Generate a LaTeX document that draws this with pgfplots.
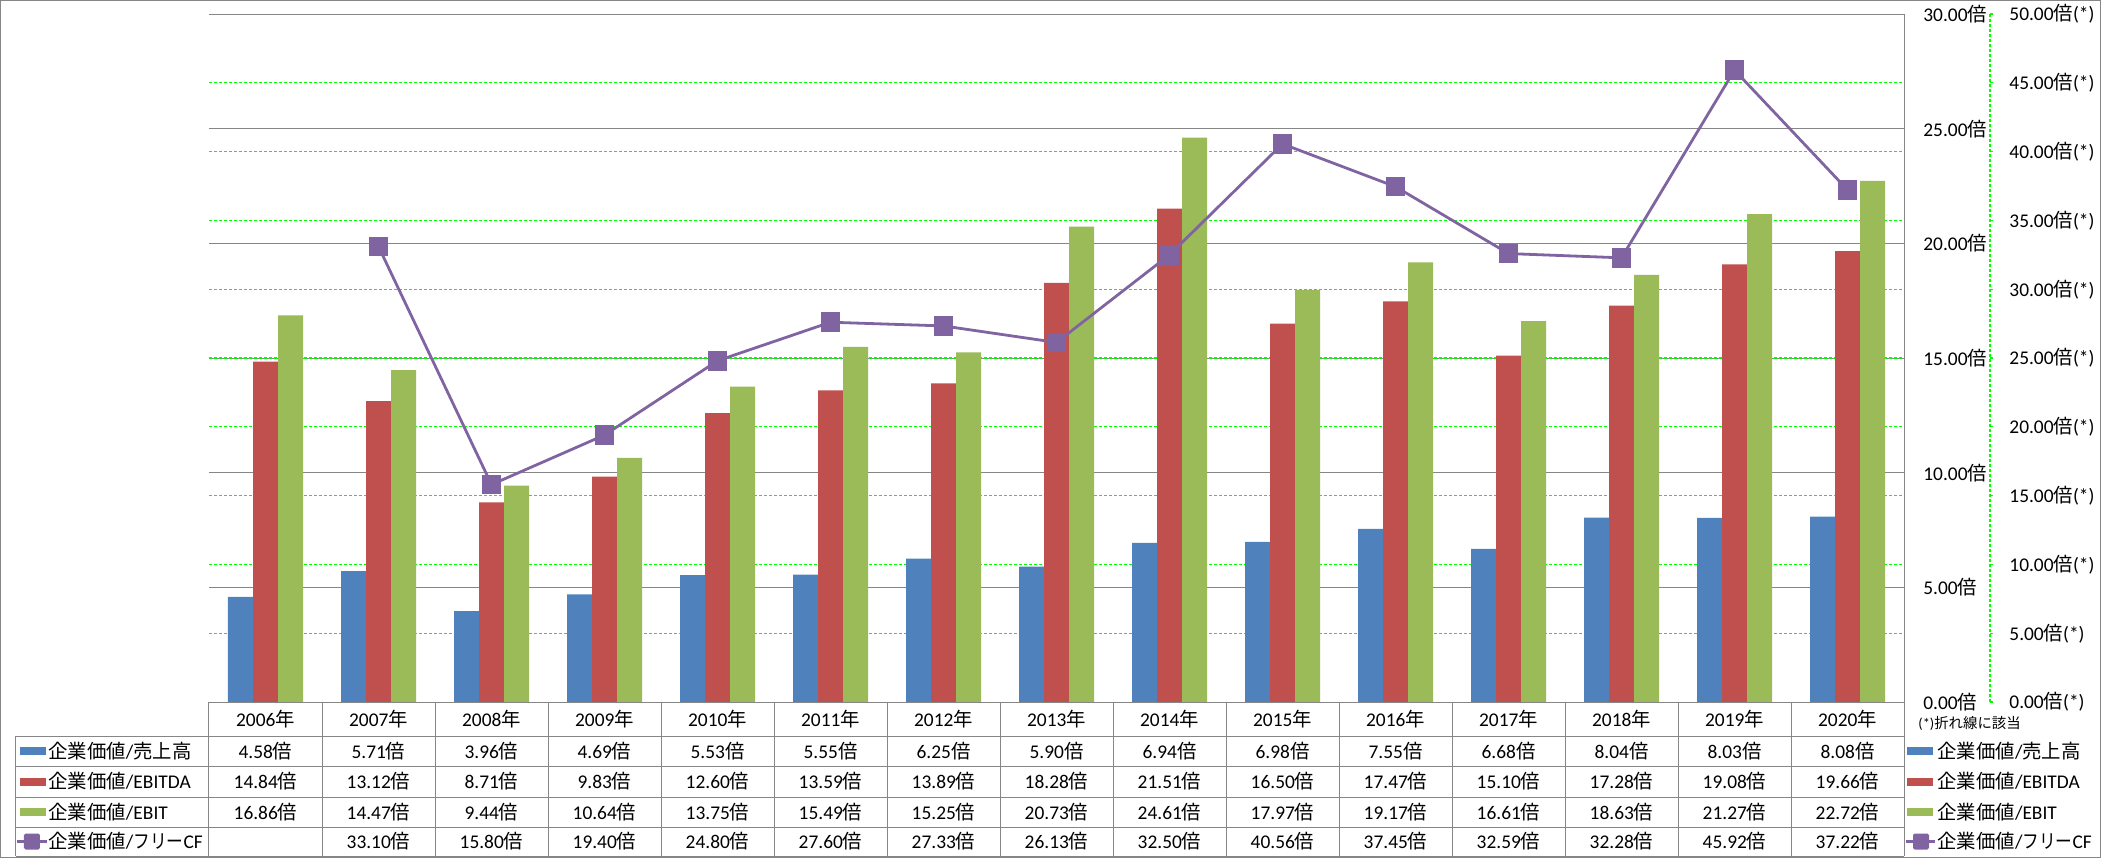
\documentclass[border=0pt]{standalone}
\usepackage{fontspec}
\setmainfont{Carlito}
\newfontfamily\jp{Noto Sans CJK JP}
\newfontfamily\jpn{Noto Sans CJK JP}[FakeStretch=0.86]
\usepackage{pgfplots}
\pgfplotsset{compat=1.18}
\newcommand\J[1]{{\jp #1}}
\newcommand\bai{\J{倍}}
\definecolor{cBlue}{HTML}{4F81BD}
\definecolor{cRed}{HTML}{C0504D}
\definecolor{cGreen}{HTML}{9BBB59}
\definecolor{cPurple}{HTML}{8064A2}
\definecolor{cGrid}{HTML}{868686}
\definecolor{cLime}{HTML}{00FF00}
\begin{document}
\begin{tikzpicture}[font=\fontsize{9.7}{11.6}\selectfont]
\begin{pgfinterruptboundingbox}
\begin{axis}[
  at={(0,0)}, anchor=south west,
  scale only axis, width=847.5pt, height=344pt,
  xmin=-0.5, xmax=14.5, ymin=0, ymax=30,
  axis x line*=bottom, axis y line*=right, axis line style={draw=none},
  major tick length=0pt,
  xtick={0,...,14},
  xticklabels={2006\J{年},2007\J{年},2008\J{年},2009\J{年},2010\J{年},2011\J{年},2012\J{年},2013\J{年},2014\J{年},2015\J{年},2016\J{年},2017\J{年},2018\J{年},2019\J{年},2020\J{年}},
  xticklabel style={anchor=center, inner sep=0pt, yshift=-8.5pt},
  ytick={0,5,...,30},
  yticklabels={0.00\bai,5.00\bai,10.00\bai,15.00\bai,20.00\bai,25.00\bai,30.00\bai},
  yticklabel style={anchor=west, inner sep=0pt, xshift=9.5pt},
  ymajorgrids, major grid style={draw=cGrid, line width=0.5pt},
  extra y ticks={3,6,...,27}, extra y tick labels={},
  extra y tick style={grid=major, major grid style={draw=cLime, line width=0.55pt, dash pattern=on 1.5pt off 1pt}},
  ybar=0pt, bar width=12.5pt,
]
\addplot[fill=cBlue, draw=none] coordinates {(0,4.58) (1,5.71) (2,3.96) (3,4.69) (4,5.53) (5,5.55) (6,6.25) (7,5.90) (8,6.94) (9,6.98) (10,7.55) (11,6.68) (12,8.04) (13,8.03) (14,8.08)};
\addplot[fill=cRed, draw=none] coordinates {(0,14.84) (1,13.12) (2,8.71) (3,9.83) (4,12.60) (5,13.59) (6,13.89) (7,18.28) (8,21.51) (9,16.50) (10,17.47) (11,15.10) (12,17.28) (13,19.08) (14,19.66)};
\addplot[fill=cGreen, draw=none] coordinates {(0,16.86) (1,14.47) (2,9.44) (3,10.64) (4,13.75) (5,15.49) (6,15.25) (7,20.73) (8,24.61) (9,17.97) (10,19.17) (11,16.61) (12,18.63) (13,21.27) (14,22.72)};
\end{axis}
\begin{axis}[
  at={(0,0)}, anchor=south west,
  scale only axis, width=847.5pt, height=344pt,
  xmin=-0.5, xmax=14.5, ymin=0, ymax=50,
  hide x axis, axis y line*=right, axis line style={draw=none},
  major tick length=0pt,
  ytick={0,5,...,50},
  yticklabels={0.00\bai(*),5.00\bai(*),10.00\bai(*),15.00\bai(*),20.00\bai(*),25.00\bai(*),30.00\bai(*),35.00\bai(*),40.00\bai(*),45.00\bai(*),50.00\bai(*)},
  yticklabel style={anchor=west, inner sep=0pt, xshift=52.5pt},
]
\addplot[color=cPurple, line width=1.4pt, mark=square*, mark size=4.2pt, mark options={rounded corners=0.8pt, solid, fill=cPurple}] coordinates {(1,33.10) (2,15.80) (3,19.40) (4,24.80) (5,27.60) (6,27.33) (7,26.13) (8,32.50) (9,40.56) (10,37.45) (11,32.59) (12,32.28) (13,45.92) (14,37.22)};
\end{axis}
\end{pgfinterruptboundingbox}
\begin{scope}[x=0.5pt, y=-0.5pt, shift={(-104.5pt,351pt)}]
\useasboundingbox (0,0) rectangle (2101,858);
\draw[cGrid, line width=0.5pt] (0.5,0.5) rectangle (2100.5,857.5);
% right secondary axis line
\draw[cLime, line width=0.55pt, dash pattern=on 1.5pt off 1pt] (1990,14) -- (1990,702);
\foreach \k in {0,...,10} \draw[cLime, line width=0.55pt] (1990,702-68.8*\k) -- (1993,702-68.8*\k);
% table grid
\begin{scope}[cGrid, line width=0.5pt]
\draw (209,702) -- (1904,702);
\foreach \yy in {736,766,797,827,856} \draw (16,\yy) -- (1904,\yy);
\draw (16,736) -- (16,856);
\foreach \k in {0,...,14} \draw (209+113*\k,702) -- (209+113*\k,856);
\draw (1904,14) -- (1904,856);
\end{scope}
% table values
\foreach \v [count=\i from 0] in {4.58,5.71,3.96,4.69,5.53,5.55,6.25,5.90,6.94,6.98,7.55,6.68,8.04,8.03,8.08}
  \node[inner sep=0pt] at (265.5+113*\i,751) {\v\bai};
\foreach \v [count=\i from 0] in {14.84,13.12,8.71,9.83,12.60,13.59,13.89,18.28,21.51,16.50,17.47,15.10,17.28,19.08,19.66}
  \node[inner sep=0pt] at (265.5+113*\i,781.5) {\v\bai};
\foreach \v [count=\i from 0] in {16.86,14.47,9.44,10.64,13.75,15.49,15.25,20.73,24.61,17.97,19.17,16.61,18.63,21.27,22.72}
  \node[inner sep=0pt] at (265.5+113*\i,812) {\v\bai};
\foreach \v [count=\i from 1] in {33.10,15.80,19.40,24.80,27.60,27.33,26.13,32.50,40.56,37.45,32.59,32.28,45.92,37.22}
  \node[inner sep=0pt] at (265.5+113*\i,841.5) {\v\bai};
% left legend
\fill[cBlue] (20,747) rectangle (46,755);
\fill[cRed] (20,777.5) rectangle (46,785.5);
\fill[cGreen] (20,808) rectangle (46,816);
\draw[cPurple, line width=1.4pt] (17,841.5) -- (47,841.5);
\fill[cPurple, rounded corners=0.8pt] (24,833.5) rectangle (40,849.5);
\node[anchor=west, inner sep=0pt] at (48,751) {\J{企業価値}/\J{売上高}};
\node[anchor=west, inner sep=0pt] at (48,781.5) {\J{企業価値}/EBITDA};
\node[anchor=west, inner sep=0pt] at (48,812) {\J{企業価値}/EBIT};
\node[anchor=west, inner sep=0pt] at (48,841.5) {\J{企業価値}/{\jpn フリー}CF};
% right legend
\node[anchor=west, inner sep=0pt, font=\fontsize{7.2}{8.6}\selectfont] at (1918,723) {(*)\J{折れ線に該当}};
\fill[cBlue] (1907,747) rectangle (1933,755);
\fill[cRed] (1907,777.5) rectangle (1933,785.5);
\fill[cGreen] (1907,808) rectangle (1933,816);
\draw[cPurple, line width=1.4pt] (1906,841.5) -- (1935,841.5);
\fill[cPurple, rounded corners=0.8pt] (1913,833.5) rectangle (1929,849.5);
\node[anchor=west, inner sep=0pt] at (1937,751) {\J{企業価値}/\J{売上高}};
\node[anchor=west, inner sep=0pt] at (1937,781.5) {\J{企業価値}/EBITDA};
\node[anchor=west, inner sep=0pt] at (1937,812) {\J{企業価値}/EBIT};
\node[anchor=west, inner sep=0pt] at (1937,841.5) {\J{企業価値}/{\jpn フリー}CF};
\end{scope}
\end{tikzpicture}
\end{document}
